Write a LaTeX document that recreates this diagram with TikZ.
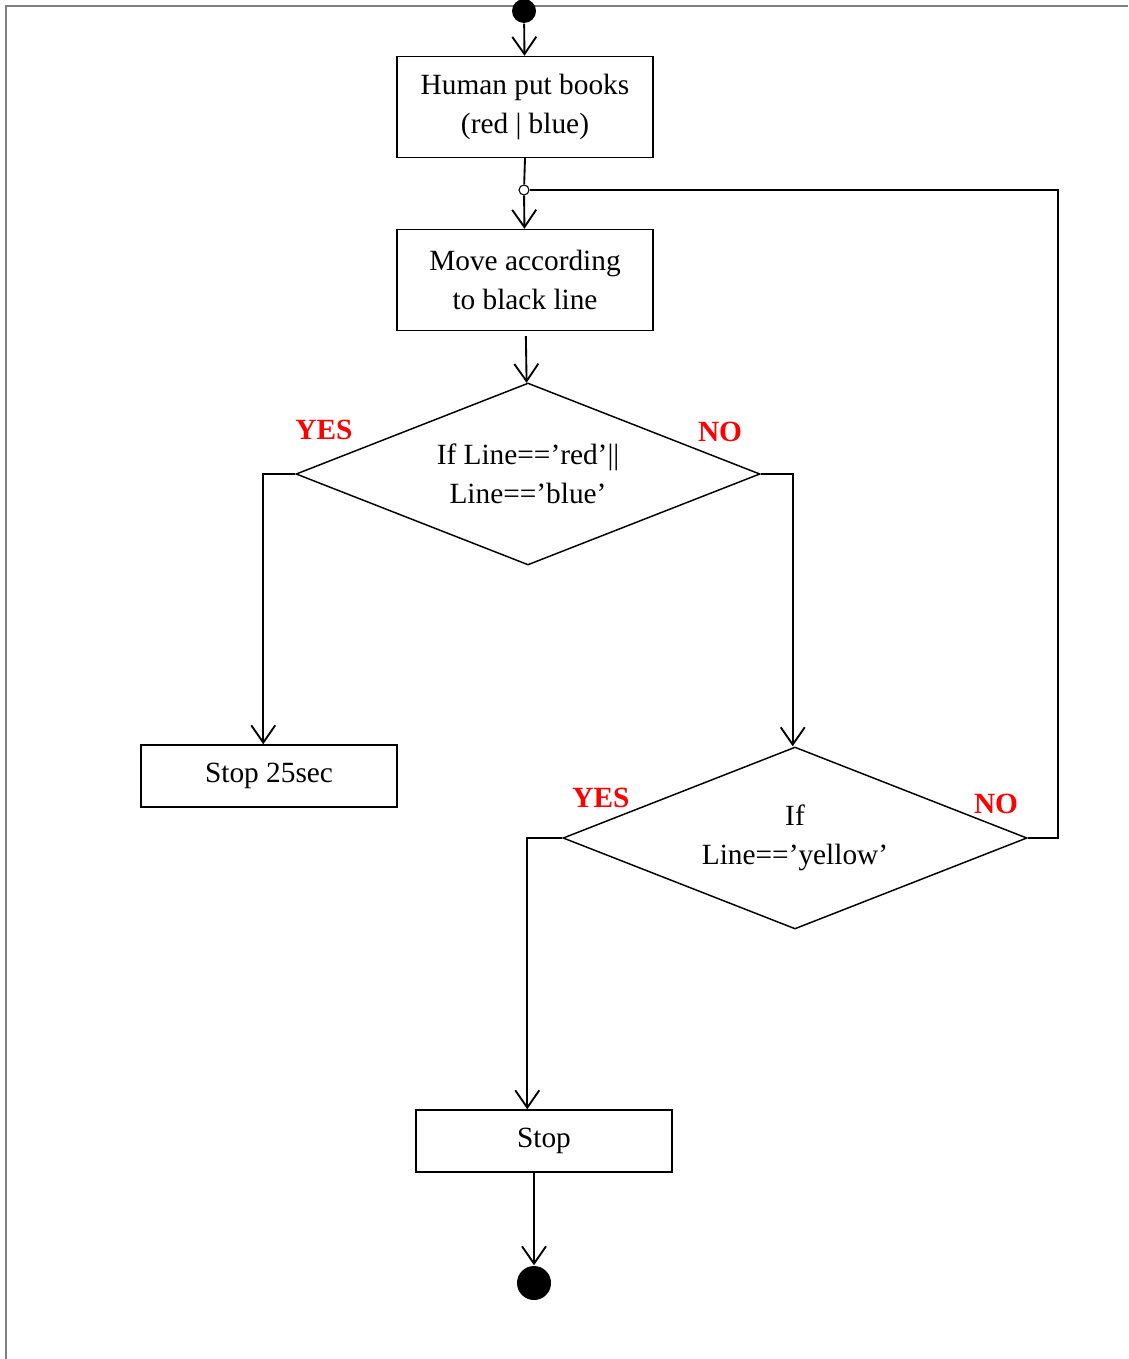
\documentclass[tikz,border=0pt]{standalone}
\usepackage{fontspec}
\setmainfont{Liberation Serif}
\usetikzlibrary{shapes.geometric,arrows.meta}
\begin{document}
\begin{tikzpicture}[x=0.75pt,y=-0.75pt,
  line width=1.1pt,
  every node/.style={font=\fontsize{22}{29}\selectfont},
  box/.style={draw, rectangle, minimum width=192pt, minimum height=75.75pt,
    align=center, inner sep=0pt},
  slim/.style={box, minimum height=46.5pt},
  decision/.style={draw, diamond, minimum width=348pt, minimum height=136.5pt,
    aspect=2.55, align=center, inner sep=0pt},
  link/.style={line width=1.4pt},
  flow/.style={link, -{Straight Barb[length=13pt,width=18pt]}},
  answer/.style={text=red, font=\fontsize{22}{29}\selectfont\bfseries},
  dot/.style={circle, fill=black, inner sep=0pt},
]
\useasboundingbox (0,0) rectangle (1128,1359);

% page frame
\draw[gray, line width=1.5pt] (1128,6) -- (6,6) -- (6,1359);

% activities and decisions
\node[dot, minimum size=18pt] (start) at (524,11) {};
\node[box] (books) at (525,107) {Human put books\\(red | blue)};
\node[circle, draw, fill=white, inner sep=0pt, minimum size=7.5pt,
      line width=0.8pt] (junc) at (524,190) {};
\node[box] (move) at (525,280) {Move according\\to black line};
\node[decision] (d1) at (528,474) {If Line==’red’||\\Line==’blue’};
\node[slim] (pause) at (269,776) {Stop 25sec};
\node[decision] (d2) at (795,838) {If\\Line==’yellow’};
\node[slim] (stop) at (544,1141) {Stop};
\node[dot, minimum size=25.5pt] (end) at (534,1283) {};

% branch labels
\node[answer] (y1) at (324,430) {YES};
\node[answer] (n1) at (720,432) {NO};
\node[answer] (y2) at (601,798) {YES};
\node[answer] (n2) at (996,804) {NO};

% control flow
\draw[flow] (start) -- (books);
\draw[link] (books.south) -- (junc);
\draw[flow] (junc) -- (move);
\draw[flow, shorten <=3.75pt] (move) -- (d1);
\draw[flow] (d1.west) -- ++(-32,0) coordinate (k1) -- (k1 |- pause.north);
\draw[flow] (d1.east) -- ++(32,0) coordinate (k2) -- (k2 |- d2.north);
\draw[flow] (d2.west) -- ++(-35,0) coordinate (k3) -- (k3 |- stop.north);
\draw[link] (d2.east) -- ++(30,0) coordinate (k4) -- (k4 |- junc) -- (junc);
\draw[flow] (stop.south -| end) -- (end);
\end{tikzpicture}
\end{document}
